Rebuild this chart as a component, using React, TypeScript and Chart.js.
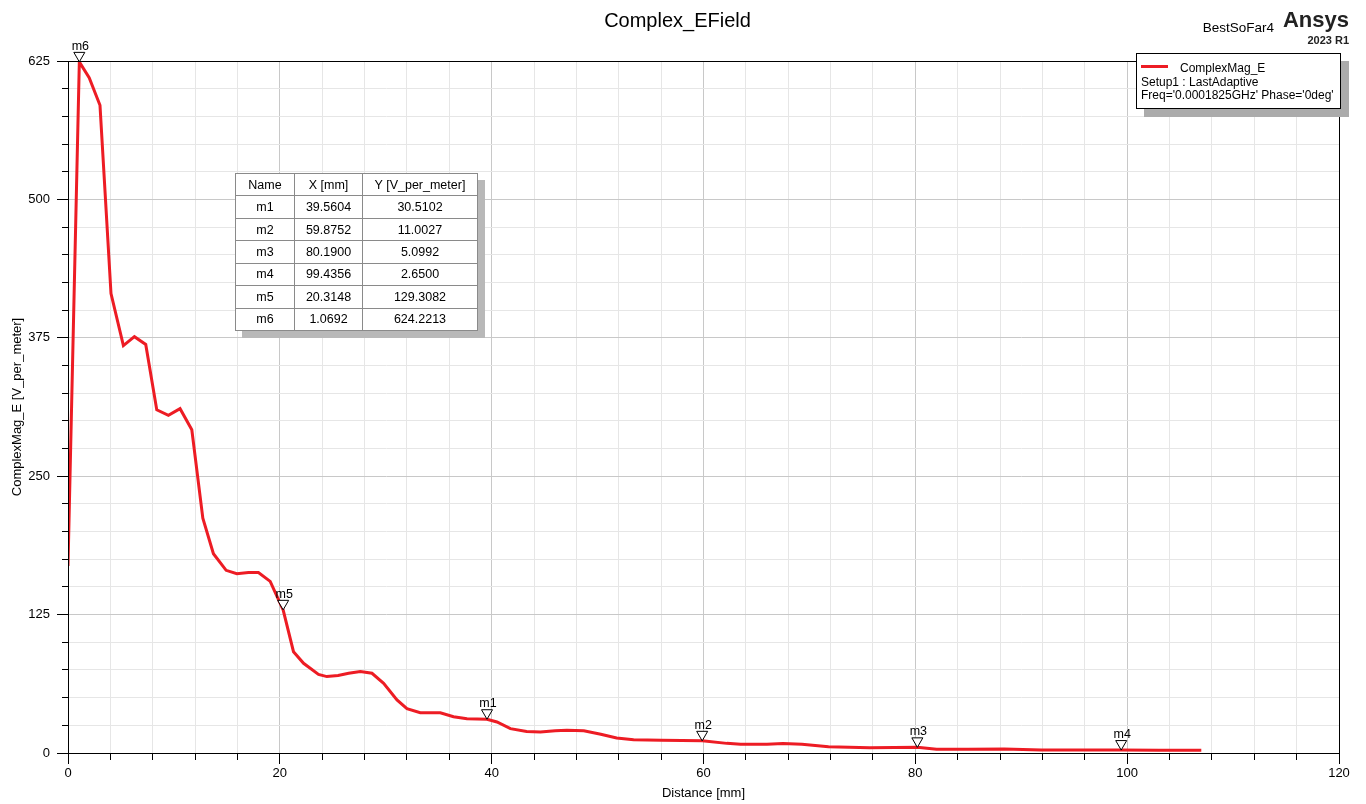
import React, { useEffect, useRef } from 'react';
import { Chart, registerables } from 'chart.js';

Chart.register(...registerables);

// ---- Data ----
const distanceMm = [0, 1.07, 2.0, 3.02, 4.06, 5.23, 6.27, 7.34, 8.38, 9.48, 10.58, 11.69, 12.73, 13.73, 14.93, 15.94, 17.04, 17.98, 19.09, 20.31, 21.29, 22.24, 23.65, 24.44, 25.5, 26.5, 27.6, 28.7, 29.8, 31.06, 32.0, 33.26, 35.15, 36.4, 37.67, 39.56, 40.5, 41.77, 43.3, 44.6, 46.0, 47.1, 48.7, 50.3, 51.8, 53.4, 56.0, 59.88, 62.2, 63.5, 66.0, 67.5, 69.3, 71.8, 75.7, 78.0, 80.19, 82.0, 85.0, 88.4, 91.9, 95.0, 99.44, 103.0, 107.0];
const complexMagE = [169, 624.2, 610, 585, 415, 368, 376, 369, 310, 305, 311, 292, 212, 180, 165, 162, 163, 163, 155, 129.3, 91.5, 81, 71, 69, 70, 72, 73.5, 72, 63, 48, 40, 36.4, 36.4, 32.8, 31, 30.5, 28, 22, 19.5, 19, 20, 20.5, 20, 17, 13.5, 12, 11.5, 11.0, 8.7, 8, 8, 8.5, 8, 5.7, 4.8, 5.0, 5.1, 3.3, 3.3, 3.6, 2.7, 2.7, 2.65, 2.5, 2.4];

const markerNames = ['m1', 'm2', 'm3', 'm4', 'm5', 'm6'];
const markerX = ['39.5604', '59.8752', '80.1900', '99.4356', '20.3148', '1.0692'];
const markerY = ['30.5102', '11.0027', '5.0992', '2.6500', '129.3082', '624.2213'];

const xMajorStep = 20;
const xMinorStep = 4;
const yMajorStep = 125;
const yMinorStep = 25;

const titleText = 'Complex_EField';
const xTitle = 'Distance [mm]';
const yTitle = 'ComplexMag_E [V_per_meter]';
const seriesName = 'ComplexMag_E';
const legendLines = ["Setup1 : LastAdaptive", "Freq='0.0001825GHz' Phase='0deg'"];
const tableHeader = ['Name', 'X [mm]', 'Y [V_per_meter]'];

const FONT = '"Liberation Sans", Arial, sans-serif';
const RED = 'rgb(237, 28, 36)';

const markerPlugin = {
  id: 'markerPlugin',
  afterDatasetsDraw(chart: any) {
    const { ctx, chartArea, scales } = chart;
    ctx.save();
    // frame
    ctx.strokeStyle = '#000';
    ctx.lineWidth = 1;
    ctx.strokeRect(Math.round(chartArea.left) + 0.5, Math.round(chartArea.top) + 0.5,
      Math.round(chartArea.right - chartArea.left), Math.round(chartArea.bottom - chartArea.top));
    // markers
    ctx.font = '12.5px ' + FONT;
    ctx.textAlign = 'center';
    ctx.textBaseline = 'alphabetic';
    for (let i = 0; i < markerNames.length; i++) {
      const px = scales.x.getPixelForValue(parseFloat(markerX[i]));
      const py = scales.y.getPixelForValue(parseFloat(markerY[i]));
      ctx.beginPath();
      ctx.moveTo(px - 5.5, py - 9.5);
      ctx.lineTo(px + 5.5, py - 9.5);
      ctx.lineTo(px, py);
      ctx.closePath();
      ctx.fillStyle = '#fff';
      ctx.fill();
      ctx.strokeStyle = '#000';
      ctx.lineWidth = 1;
      ctx.stroke();
      ctx.fillStyle = '#000';
      ctx.fillText(markerNames[i], px + 1, py - 12);
    }
    ctx.restore();
  },
};

export default function App() {
  const canvasRef = useRef<HTMLCanvasElement>(null);

  useEffect(() => {
    document.body.style.margin = '0';
    const canvas = canvasRef.current;
    if (!canvas) return;
    const chart = new Chart(canvas, {
      type: 'line',
      data: {
        datasets: [
          {
            label: seriesName,
            data: distanceMm.map((x, i) => ({ x, y: complexMagE[i] })),
            borderColor: RED,
            backgroundColor: RED,
            borderWidth: 3,
            pointRadius: 0,
            tension: 0,
            fill: false,
          },
        ],
      },
      options: {
        animation: false,
        responsive: true,
        maintainAspectRatio: false,
        layout: { padding: { top: 61, right: 27, left: 0, bottom: 0 } },
        plugins: {
          legend: { display: false },
          tooltip: { enabled: false },
          title: { display: false },
        },
        scales: {
          x: {
            type: 'linear',
            min: 0,
            max: 120,
            afterFit: (s: any) => {
              s.height = 51;
              s.paddingLeft = 0;
              s.paddingRight = 0;
            },
            ticks: {
              stepSize: xMinorStep,
              autoSkip: false,
              maxRotation: 0,
              padding: 2,
              color: '#000',
              font: { family: FONT, size: 13 },
              callback: (v: any) => (Number(v) % xMajorStep === 0 ? String(v) : ''),
            },
            grid: {
              color: (c: any) => (c.tick && c.tick.value % xMajorStep === 0 ? '#c8c8c8' : '#e6e6e6'),
              tickColor: '#000',
              tickLength: 11,
              tickBorderDash: (c: any) => (c.tick && c.tick.value % xMajorStep === 0 ? [] : [6, 100]),
            },
            border: { display: true, color: '#000', width: 1 },
            title: {
              display: true,
              text: xTitle,
              color: '#000',
              font: { family: FONT, size: 13 },
              padding: { top: 0, bottom: 3 },
            },
          },
          y: {
            type: 'linear',
            min: 0,
            max: 625,
            afterFit: (s: any) => {
              s.width = 68;
              s.paddingTop = 0;
              s.paddingBottom = 0;
            },
            ticks: {
              stepSize: yMinorStep,
              autoSkip: false,
              padding: 7,
              color: '#000',
              font: { family: FONT, size: 13 },
              callback: (v: any) => (Number(v) % yMajorStep === 0 ? String(v) : ''),
            },
            grid: {
              color: (c: any) => (c.tick && c.tick.value % yMajorStep === 0 ? '#c8c8c8' : '#e6e6e6'),
              tickColor: '#000',
              tickLength: 11,
              tickBorderDash: (c: any) => (c.tick && c.tick.value % yMajorStep === 0 ? [] : [0, 5, 6, 100]),
            },
            border: { display: true, color: '#000', width: 1 },
            title: {
              display: true,
              text: yTitle,
              color: '#000',
              font: { family: FONT, size: 13 },
              padding: { top: 10, bottom: 0 },
            },
          },
        },
      },
      plugins: [markerPlugin],
    } as any);
    return () => chart.destroy();
  }, []);

  const cell: React.CSSProperties = {
    border: '1px solid #8a8a8a',
    textAlign: 'center',
    padding: 0,
    height: 21.4,
  };

  return (
    <div style={{ position: 'relative', width: 1366, height: 804, fontFamily: FONT, color: '#000', background: '#fff', overflow: 'hidden' }}>
      <div style={{ position: 'absolute', inset: 0 }}>
        <canvas ref={canvasRef} />
      </div>
      <div style={{ position: 'absolute', left: 0, width: 1355, top: 8, textAlign: 'center', fontSize: 20, lineHeight: '24px' }}>
        {titleText}
      </div>
      <div style={{ position: 'absolute', right: 92, top: 20, fontSize: 13.5, lineHeight: '16px' }}>BestSoFar4</div>
      <div style={{ position: 'absolute', right: 17, top: 7, fontSize: 22, fontWeight: 'bold', lineHeight: '26px', color: '#222' }}>Ansys</div>
      <div style={{ position: 'absolute', right: 17, top: 34, fontSize: 11, fontWeight: 'bold', lineHeight: '12px', color: '#222' }}>2023 R1</div>

      {/* Legend */}
      <div style={{ position: 'absolute', left: 1136, top: 53, width: 203, height: 54, border: '1px solid #000', background: '#fff', boxShadow: '8px 8px 0 #ababab', fontSize: 12, lineHeight: '13.5px', whiteSpace: 'nowrap' }}>
        <div style={{ position: 'absolute', left: 4, top: 11, width: 27, height: 2.5, background: RED }} />
        <div style={{ position: 'absolute', left: 43, top: 7.5 }}>{seriesName}</div>
        {legendLines.map((t, i) => (
          <div key={i} style={{ position: 'absolute', left: 4, top: 21.5 + i * 13.4 }}>{t}</div>
        ))}
      </div>

      {/* Marker table */}
      <table style={{ position: 'absolute', left: 235, top: 173, width: 242, height: 158, borderCollapse: 'collapse', border: '1px solid #222', background: '#fff', boxShadow: '7px 7px 0 #b8b8b8', fontSize: 12.5, tableLayout: 'fixed' }}>
        <colgroup>
          <col style={{ width: 59 }} />
          <col style={{ width: 68 }} />
          <col style={{ width: 115 }} />
        </colgroup>
        <tbody>
          <tr>
            {tableHeader.map((h, i) => (
              <td key={i} style={cell}>{h}</td>
            ))}
          </tr>
          {markerNames.map((n, i) => (
            <tr key={n}>
              <td style={cell}>{n}</td>
              <td style={cell}>{markerX[i]}</td>
              <td style={cell}>{markerY[i]}</td>
            </tr>
          ))}
        </tbody>
      </table>
    </div>
  );
}
